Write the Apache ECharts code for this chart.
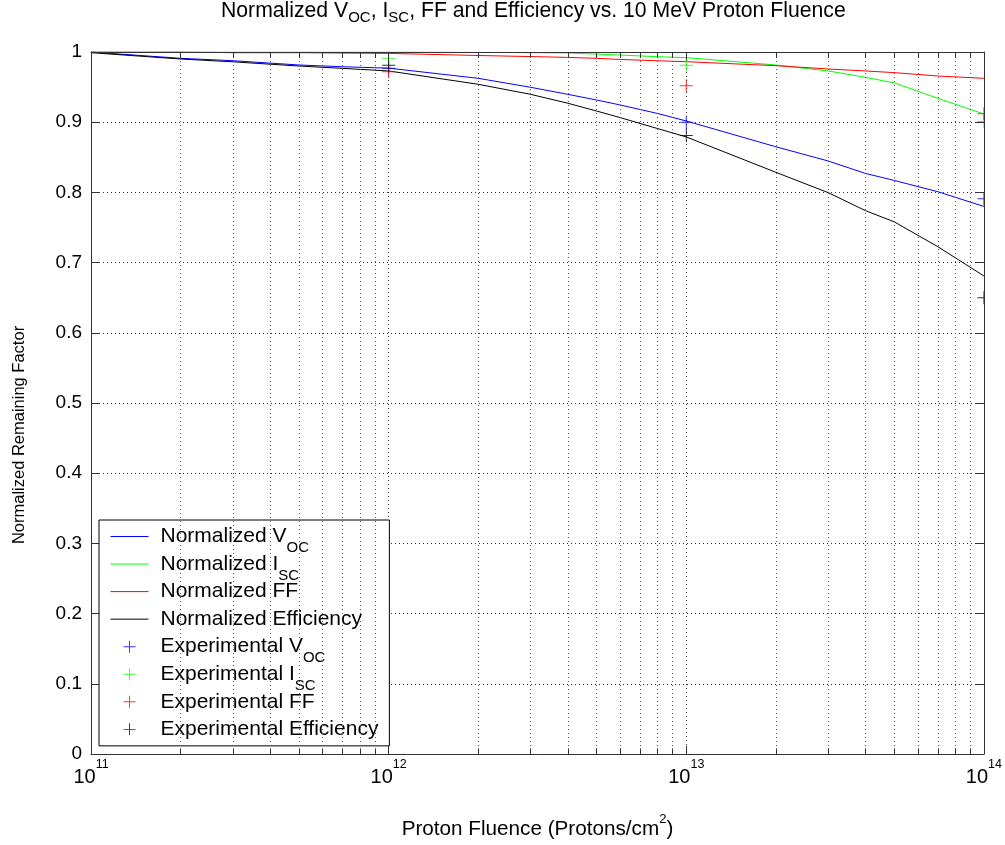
<!DOCTYPE html>
<html>
<head>
<meta charset="utf-8">
<script src="https://cdn.jsdelivr.net/npm/echarts@6/dist/echarts.min.js"></script>
<style>html,body{margin:0;padding:0;background:#fff}#c{width:1005px;height:845px}</style>
</head>
<body>
<div id="c"></div>
<script>
// ---- data ----
const fluence  = [1e11, 2e11, 3e11, 5e11, 7e11, 1e12, 2e12, 3e12, 4e12, 5e12, 6e12, 8e12, 1e13, 2e13, 3e13, 4e13, 5e13, 7e13, 1e14];
const vocModel = [1.000, 0.991, 0.9876, 0.9815, 0.979, 0.977, 0.9625, 0.9497, 0.9397, 0.9316, 0.9245, 0.9125, 0.9017, 0.865, 0.8447, 0.827, 0.817, 0.801, 0.780];
const iscModel = [1.000, 1.000, 1.000, 1.000, 1.000, 1.000, 0.9995, 0.999, 0.9986, 0.997, 0.9957, 0.9933, 0.992, 0.9815, 0.973, 0.9639, 0.956, 0.934, 0.9117];
const ffModel  = [1.000, 1.000, 0.999, 0.999, 0.9985, 0.998, 0.995, 0.9935, 0.9923, 0.991, 0.9894, 0.9875, 0.9862, 0.9805, 0.9758, 0.973, 0.9706, 0.9658, 0.9625];
const effModel = [0.999, 0.990, 0.986, 0.980, 0.9767, 0.973, 0.954, 0.9397, 0.927, 0.9159, 0.9065, 0.891, 0.879, 0.8286, 0.7996, 0.774, 0.758, 0.7227, 0.681];

const expFluence = [1e12, 1e13, 1e14];
const expVoc = [0.977, 0.900, 0.791];
const expIsc = [0.991, 0.981, 0.901];
const expFF  = [0.972, 0.952, 0.912];
const expEff = [0.981, 0.881, 0.650];

const minorFluence = [2e11,3e11,4e11,5e11,6e11,7e11,8e11,9e11,
                      2e12,3e12,4e12,5e12,6e12,7e12,8e12,9e12,
                      2e13,3e13,4e13,5e13,6e13,7e13,8e13,9e13];

const X_MIN = 1e11, X_MAX = 1e14;

const seriesNames = ['Normalized V_OC','Normalized I_SC','Normalized FF','Normalized Efficiency',
                     'Experimental V_OC','Experimental I_SC','Experimental FF','Experimental Efficiency'];
const seriesColors = ['#0000ff','#00ff00','#ff0000','#000000','#0000ff','#00ff00','#ff0000','#000000'];

// ---- chart ----
const FONT = "'Liberation Sans', Arial, Helvetica, sans-serif";
const pair = (xs, ys) => xs.map((x, i) => [x, ys[i]]);
const PLUS = 'path://M0,6 L13,6 L13,7 L0,7 Z M6,0 L7,0 L7,13 L6,13 Z';
const HALF_PLUS = 'path://M0,6 L7,6 L7,7 L0,7 Z M6,0 L7,0 L7,13 L6,13 Z';
const AX = '#333';

function lineSeries(i, ys) {
  return {
    name: seriesNames[i], type: 'line', data: pair(fluence, ys),
    showSymbol: false, symbol: 'circle', smooth: false, z: 3,
    lineStyle: { color: seriesColors[i], width: 1 }, itemStyle: { color: seriesColors[i] }
  };
}
function expSeries(i, ys) {
  return {
    name: seriesNames[i], type: 'scatter',
    // points sitting on the right frame are cut by the frame, as in the reference
    data: pair(expFluence, ys).map(p => p[0] >= X_MAX
      ? { value: p, symbol: HALF_PLUS, symbolSize: [7, 13], symbolOffset: [-3, 0] }
      : p),
    symbol: PLUS, symbolSize: 13, z: 4,
    itemStyle: { color: seriesColors[i] }
  };
}

const minorGrid = minorFluence.map(v => ({ xAxis: v }));
const minorTicks = [];
minorFluence.forEach(v => {
  minorTicks.push([{ coord: [v, 0] }, { coord: [v, 0.008] }]);
  minorTicks.push([{ coord: [v, 1] }, { coord: [v, 0.992] }]);
});

const chart = echarts.init(document.getElementById('c'), null, { renderer: 'canvas' });
const option = {
  backgroundColor: '#fff',
  animation: false,
  textStyle: { fontFamily: FONT, color: '#000' },
  title: {
    text: '{m|Normalized V}{s|OC}{m|, I}{s|SC}{m|, FF and Efficiency vs. 10 MeV Proton Fluence}',
    left: 221, top: 4, padding: 0,
    textStyle: {
      fontFamily: FONT, fontWeight: 'normal', color: '#000',
      rich: {
        m: { fontFamily: FONT, fontSize: 21.2, lineHeight: 14, color: '#000' },
        s: { fontFamily: FONT, fontSize: 15, height: 1, lineHeight: 1, verticalAlign: 'bottom', color: '#000' }
      }
    }
  },
  grid: { left: 91, right: 19, top: 52, bottom: 91, containLabel: false },
  legend: {
    orient: 'vertical', left: 99, top: 520,
    padding: [6, 11, 6, 11],
    itemWidth: 38, itemHeight: 12, itemGap: -1.95,
    backgroundColor: '#fff', borderColor: '#000', borderWidth: 1, borderRadius: 0,
    lineStyle: { width: 1 },
    data: seriesNames.map((n, i) => i < 4
      ? { name: n, itemStyle: { color: 'rgba(0,0,0,0)', borderColor: 'rgba(0,0,0,0)', borderWidth: 0 } }
      : { name: n }),
    formatter: name => {
      const p = name.split('_');
      if (p.length > 1) return '{n|' + p[0] + '}{s|' + p[1] + '}';
      if (name === seriesNames[seriesNames.length - 1]) return '{n|' + name + '}';
      return '{n|' + name + '}{s|\u00a0}';
    },
    textStyle: {
      fontFamily: FONT, color: '#000',
      rich: {
        n: { fontFamily: FONT, fontSize: 21, lineHeight: 24, padding: [0, 0, 0, 7], color: '#000' },
        s: { fontFamily: FONT, fontSize: 15, height: 1, lineHeight: 1, verticalAlign: 'bottom', color: '#000' }
      }
    }
  },
  xAxis: [{
    type: 'log', logBase: 10, min: X_MIN, max: X_MAX, position: 'bottom',
    name: '{m|Proton Fluence (Protons/cm}{p|2}{m|)}', nameLocation: 'middle', nameGap: 65,
    nameTextStyle: {
      fontFamily: FONT, color: '#000',
      rich: {
        m: { fontFamily: FONT, fontSize: 20.7, lineHeight: 21, color: '#000' },
        p: { fontFamily: FONT, fontSize: 13, height: 1, lineHeight: 1, verticalAlign: 'top', color: '#000' }
      }
    },
    axisLine: { show: true, lineStyle: { color: AX, width: 1 } },
    axisTick: { show: true, inside: true, length: 8, lineStyle: { color: AX } },
    splitLine: { show: true, lineStyle: { color: '#333', type: [1, 3], width: 1 } },
    axisLabel: {
      margin: 10, color: '#000', fontFamily: FONT,
      formatter: v => '{b|10}{e|' + Math.round(Math.log10(v)) + '}',
      rich: {
        b: { fontFamily: FONT, fontSize: 20, lineHeight: 26, color: '#000' },
        e: { fontFamily: FONT, fontSize: 12.5, height: 1, lineHeight: 1, verticalAlign: 'top', color: '#000' }
      }
    }
  }, {
    type: 'log', logBase: 10, min: X_MIN, max: X_MAX, position: 'top', z: 10,
    axisLine: { show: true, onZero: false, lineStyle: { color: AX, width: 1 } },
    axisTick: { show: true, inside: true, length: 8, lineStyle: { color: AX } },
    axisLabel: { show: false }, splitLine: { show: false }
  }],
  yAxis: [{
    type: 'value', min: 0, max: 1, interval: 0.1, position: 'left',
    name: 'Normalized Remaining Factor', nameLocation: 'middle', nameGap: 63, nameRotate: 90,
    nameTextStyle: { fontFamily: FONT, fontSize: 16.5, color: '#000', padding: [0, 64, 0, 0] },
    axisLine: { show: true, lineStyle: { color: AX, width: 1 } },
    axisTick: { show: true, inside: true, length: 8, lineStyle: { color: AX } },
    splitLine: { show: true, lineStyle: { color: '#333', type: [1, 3], width: 1 } },
    axisLabel: { margin: 9, fontSize: 19, fontFamily: FONT, color: '#000' }
  }, {
    type: 'value', min: 0, max: 1, interval: 0.1, position: 'right', z: 10,
    axisLine: { show: true, onZero: false, lineStyle: { color: AX, width: 1 } },
    axisTick: { show: true, inside: true, length: 8, lineStyle: { color: AX } },
    axisLabel: { show: false }, splitLine: { show: false }
  }],
  series: [
    {
      name: 'grid', type: 'line', data: [], silent: true, z: 1,
      markLine: {
        silent: true, symbol: ['none', 'none'], label: { show: false },
        lineStyle: { color: '#555', type: [1, 3], width: 1 },
        data: minorGrid, animation: false
      }
    },
    {
      name: 'minorTicks', type: 'line', data: [], silent: true, z: 5,
      markLine: {
        silent: true, symbol: ['none', 'none'], label: { show: false },
        lineStyle: { color: AX, type: 'solid', width: 1 },
        data: minorTicks, animation: false
      }
    },
    lineSeries(0, vocModel),
    lineSeries(1, iscModel),
    lineSeries(2, ffModel),
    lineSeries(3, effModel),
    expSeries(4, expVoc),
    expSeries(5, expIsc),
    expSeries(6, expFF),
    expSeries(7, expEff)
  ]
};
chart.setOption(option);
</script>
</body>
</html>
